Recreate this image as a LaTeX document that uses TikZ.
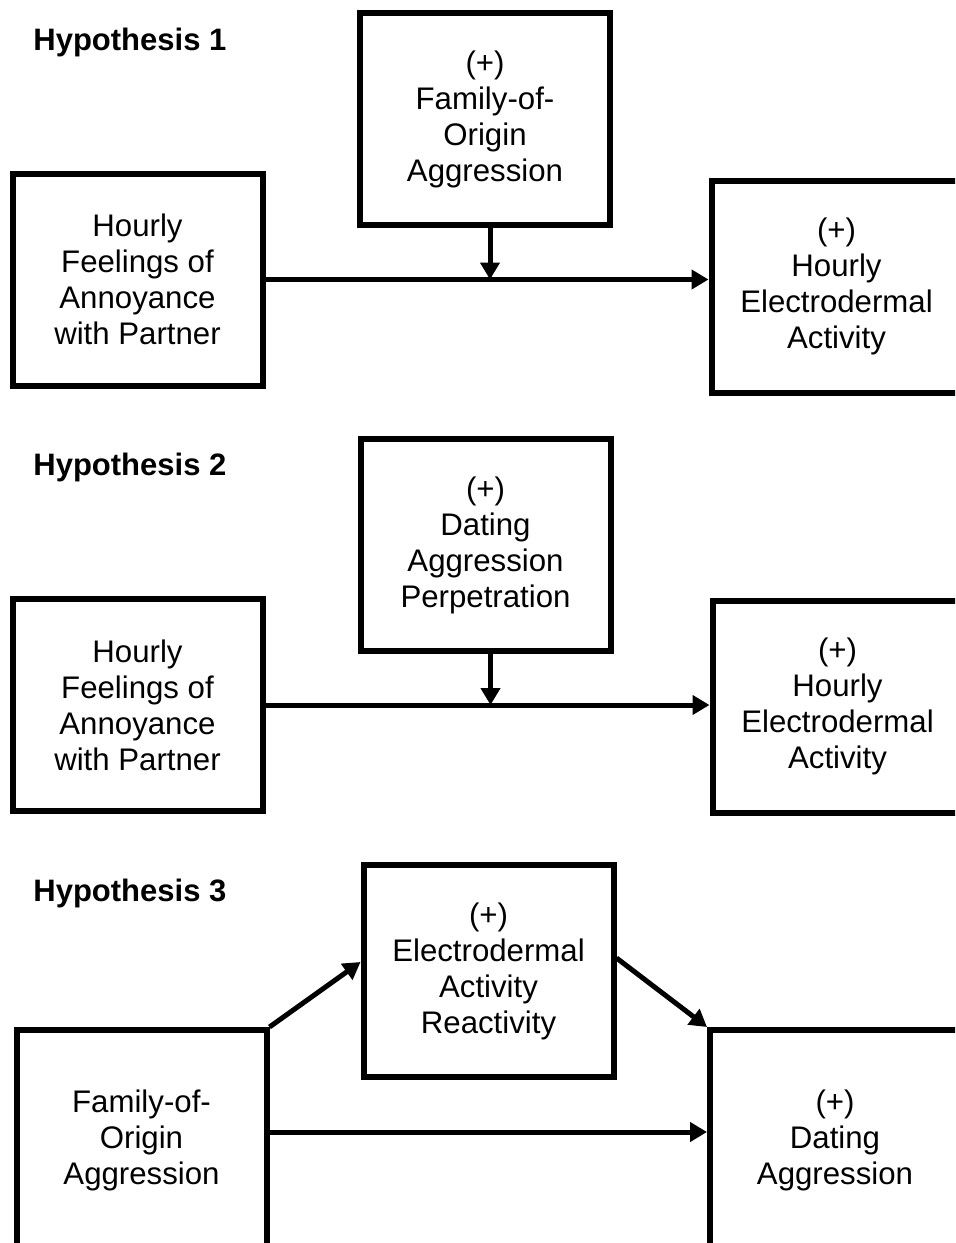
\documentclass[tikz,border=0pt]{standalone}
\usepackage{fontspec}
\setmainfont{Liberation Sans}
\usepackage{tikz}
\usetikzlibrary{arrows.meta}
\tikzset{
  var node/.style={rectangle,draw,line width=3pt,align=center,inner sep=0pt,
    minimum width=125pt,minimum height=106pt,font=\fontsize{15.6}{18}\selectfont},
  hyp label/.style={anchor=west,inner sep=0pt,font=\fontsize{15.5}{18}\selectfont\bfseries},
  link/.style={line width=2.5pt,-{Triangle[length=8.5pt,width=9.5pt]}}
}
\begin{document}
\begin{tikzpicture}[x=0.5pt,y=-0.5pt]
        \clip (0,0) rectangle (955,1243);
        \node [hyp label] (h1) at (33,42) {Hypothesis 1};
        \node [var node] (1) at (485,119) {(+)\\Family-of-\\Origin\\Aggression};
        \node [var node] (2) at (137.5,279.5) {Hourly\\Feelings of\\Annoyance\\with Partner};
        \node [var node] (3) at (836.5,286.5) {(+)\\Hourly\\Electrodermal\\Activity};
        \draw [link] (2.east) -- (2.east -| 3.west);
        \draw [link] ([xshift=2.5pt]1.south) -- ([xshift=2.5pt]1.south |- 2.east);

        \node [hyp label] (h2) at (33,467) {Hypothesis 2};
        \node [var node] (4) at (485.5,545) {(+)\\Dating\\Aggression\\Perpetration};
        \node [var node] (5) at (137.5,705) {Hourly\\Feelings of\\Annoyance\\with Partner};
        \node [var node] (6) at (837.5,706.5) {(+)\\Hourly\\Electrodermal\\Activity};
        \draw [link] (5.east) -- (5.east -| 6.west);
        \draw [link] ([xshift=2.5pt]4.south) -- ([xshift=2.5pt]4.south |- 5.east);

        \node [hyp label] (h3) at (33,893) {Hypothesis 3};
        \node [var node] (7) at (488.5,971) {(+)\\Electrodermal\\Activity\\Reactivity};
        \node [var node,minimum height=110pt] (8) at (141.5,1140) {Family-of-\\Origin\\Aggression};
        \node [var node,minimum height=110pt] (9) at (835,1140) {(+)\\Dating\\Aggression};
        \draw [link] (8.north east) -- ([yshift=4.5pt]7.west);
        \draw [link] ([yshift=6.5pt]7.east) -- (9.north west);
        \draw [link] ([yshift=4pt]8.east) -- ([yshift=4pt]8.east -| 9.west);
\end{tikzpicture}
\end{document}
